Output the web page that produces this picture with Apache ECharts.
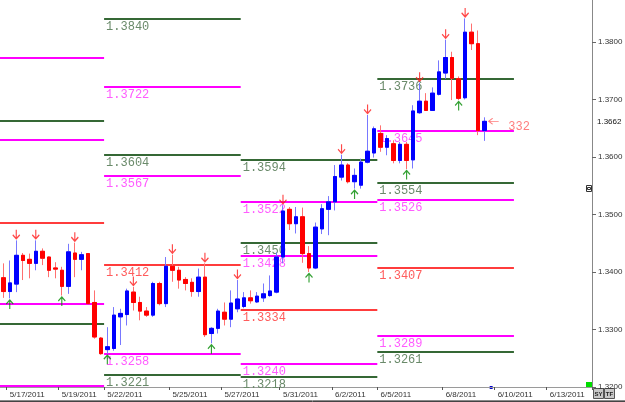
<!DOCTYPE html>
<html>
<head>
<meta charset="utf-8">
<script src="https://cdn.jsdelivr.net/npm/echarts@6/dist/echarts.min.js"></script>
<style>
  html, body { margin: 0; padding: 0; background: #fff; }
  #chart-content { width: 625px; height: 402px; }
</style>
</head>
<body>
<div id="chart-content"></div>
<script>
// 6h bars from 5/17/2011 on, weekly pivot levels drawn per week
const opens = [
  1.3390, 1.3366, 1.3379, 1.3429, 1.3422, 1.3415, 1.3436, 1.3426, 1.3407, 1.3403,
  1.3375, 1.3433, 1.3422, 1.3432, 1.3347, 1.3285, 1.3265, 1.3267, 1.3322, 1.3326,
  1.3365, 1.3347, 1.3332, 1.3325, 1.3380, 1.3345, 1.3410, 1.3403, 1.3387, 1.3382,
  1.3366, 1.3391, 1.3293, 1.3302, 1.3330, 1.3318, 1.3336, 1.3340, 1.3355, 1.3348,
  1.3355, 1.3359, 1.3365, 1.3426, 1.3509, 1.3484, 1.3496, 1.3432, 1.3407, 1.3475,
  1.3509, 1.3522, 1.3565, 1.3586, 1.3557, 1.3551, 1.3591, 1.3607, 1.3641, 1.3617,
  1.3623, 1.3594, 1.3622, 1.3595, 1.3677, 1.3697, 1.3681, 1.3709, 1.3746, 1.3773,
  1.3736, 1.3703, 1.3817, 1.3797, 1.3646
];
const closes = [
  1.3366, 1.3381, 1.3429, 1.3420, 1.3415, 1.3436, 1.3424, 1.3403, 1.3405, 1.3375,
  1.3435, 1.3422, 1.3430, 1.3345, 1.3287, 1.3258, 1.3270, 1.3325, 1.3328, 1.3367,
  1.3347, 1.3332, 1.3325, 1.3380, 1.3345, 1.3410, 1.3403, 1.3386, 1.3380, 1.3366,
  1.3391, 1.3291, 1.3302, 1.3332, 1.3318, 1.3346, 1.3353, 1.3355, 1.3350, 1.3358,
  1.3362, 1.3367, 1.3426, 1.3506, 1.3484, 1.3496, 1.3432, 1.3407, 1.3478, 1.3510,
  1.3522, 1.3566, 1.3586, 1.3557, 1.3568, 1.3591, 1.3610, 1.3649, 1.3617, 1.3632,
  1.3594, 1.3622, 1.3594, 1.3680, 1.3697, 1.3681, 1.3711, 1.3748, 1.3773, 1.3737,
  1.3702, 1.3817, 1.3797, 1.3646, 1.3662
];
const lows = [
  1.3355, 1.3354, 1.3365, 1.3386, 1.3389, 1.3403, 1.3412, 1.3391, 1.3389, 1.3359,
  1.3362, 1.3391, 1.3403, 1.3344, 1.3284, 1.3256, 1.3258, 1.3263, 1.3273, 1.3307,
  1.3333, 1.3316, 1.3322, 1.3322, 1.3342, 1.3339, 1.3383, 1.3371, 1.3368, 1.3357,
  1.3357, 1.3287, 1.3276, 1.3293, 1.3307, 1.3304, 1.3330, 1.3337, 1.3345, 1.3346,
  1.3348, 1.3357, 1.3363, 1.3415, 1.3473, 1.3467, 1.3416, 1.3400, 1.3405, 1.3466,
  1.3464, 1.3507, 1.3559, 1.3554, 1.3545, 1.3545, 1.3589, 1.3599, 1.3609, 1.3603,
  1.3589, 1.3589, 1.3579, 1.3580, 1.3675, 1.3680, 1.3680, 1.3707, 1.3736, 1.3699,
  1.3699, 1.3700, 1.3786, 1.3638, 1.3628
];
const highs = [
  1.3415, 1.3420, 1.3455, 1.3433, 1.3432, 1.3455, 1.3441, 1.3427, 1.3417, 1.3409,
  1.3449, 1.3451, 1.3435, 1.3433, 1.3368, 1.3287, 1.3304, 1.3339, 1.3336, 1.3371,
  1.3374, 1.3357, 1.3339, 1.3383, 1.3383, 1.3426, 1.3430, 1.3409, 1.3391, 1.3389,
  1.3406, 1.3415, 1.3304, 1.3336, 1.3347, 1.3368, 1.3386, 1.3365, 1.3368, 1.3365,
  1.3380, 1.3394, 1.3434, 1.3516, 1.3513, 1.3513, 1.3512, 1.3445, 1.3486, 1.3518,
  1.3532, 1.3586, 1.3604, 1.3589, 1.3580, 1.3597, 1.3673, 1.3653, 1.3655, 1.3638,
  1.3629, 1.3626, 1.3626, 1.3690, 1.3729, 1.3711, 1.3721, 1.3768, 1.3804, 1.3783,
  1.3740, 1.3841, 1.3832, 1.3820, 1.3669
];

// fractal arrows
const peakIdx = [2, 5, 11, 20, 26, 31, 36, 43, 52, 56, 64, 68, 71];
const troughIdx = [1, 9, 16, 32, 47, 54, 62, 70];

// x axis: 91 slots, date labels at some of them
const slotCount = 91;
const tickIndex = [1, 9, 16, 26, 34, 43, 51, 58, 68, 76, 84];
const tickLabels = ['5/17/2011', '5/19/2011', '5/22/2011', '5/25/2011', '5/27/2011',
  '5/31/2011', '6/2/2011', '6/5/2011', '6/8/2011', '6/10/2011', '6/13/2011'];

// weekly levels
const weekStart = [0, 16, 37, 58];
const weekEnd = [15, 36, 57, 78];
const weekLevels = [
  [1.3772, 1.3663, 1.3630, 1.3486, 1.3344, 1.3310, 1.3202],
  [1.3840, 1.3722, 1.3604, 1.3567, 1.3412, 1.3258, 1.3221],
  [1.3594, 1.3522, 1.3450, 1.3428, 1.3334, 1.3240, 1.3218],
  [1.3736, 1.3645, 1.3554, 1.3526, 1.3407, 1.3289, 1.3261]
];
const weekKinds = [
  ['m', 'g', 'm', 'r', 'm', 'g', 'm'],
  ['g', 'm', 'g', 'm', 'r', 'm', 'g'],
  ['g', 'm', 'g', 'm', 'r', 'm', 'g'],
  ['g', 'm', 'g', 'm', 'r', 'm', 'g']
];
const weekShowText = [false, true, true, true];

const rangeNote = '332';

const categories = Array.from({ length: slotCount }, (_, i) => String(i));
const levelColor = { g: '#356835', m: '#ff00ff', r: '#ff3c3c' };
const levelTextColor = { g: '#6a8a6a', m: '#ff5cff', r: '#ff5c5c' };

const levelRows = [];
weekLevels.forEach((vals, w) => {
  vals.forEach((v, k) => {
    levelRows.push({ start: weekStart[w], end: weekEnd[w], value: v, kind: weekKinds[w][k], text: weekShowText[w] });
  });
});

const candleData = opens.map((o, i) => [o, closes[i], lows[i], highs[i]]);
// bodies only, drawn on top so the wicks keep the lighter colour
const bodyData = opens.map((o, i) => [o, closes[i], Math.min(o, closes[i]), Math.max(o, closes[i])]);

const chart = echarts.init(document.getElementById('chart-content'));

const downArrow = 'path://M4,0L4,9M0,5L4,9L8,5';
const upArrow = 'path://M4,9L4,0M0,4L4,0L8,4';
const leftArrow = 'path://M0,3L10,3M4,0L0,3L4,6';
const levelFont = '12px "Liberation Mono"';

let option = {
  animation: false,
  backgroundColor: '#ffffff',
  grid: { left: 0, right: 33, top: 0, bottom: 15, outerBoundsMode: 'none' },
  xAxis: {
    type: 'category',
    data: categories,
    boundaryGap: true,
    axisLine: { lineStyle: { color: '#9a9a9a', width: 1 } },
    axisTick: {
      show: true,
      length: 3,
      interval: (i) => tickIndex.includes(i),
      lineStyle: { color: '#555' }
    },
    axisLabel: {
      interval: (i) => tickIndex.includes(i),
      formatter: (v, i) => tickLabels[tickIndex.indexOf(Number(v))] || '',
      align: 'left',
      margin: 4,
      fontSize: 8,
      fontFamily: 'Liberation Sans',
      color: '#333'
    },
    splitLine: { show: false }
  },
  yAxis: {
    type: 'value',
    position: 'right',
    min: 1.32,
    max: 1.3873,
    interval: 0.01,
    scale: true,
    axisLine: { show: true, lineStyle: { color: '#888', width: 1 } },
    axisTick: { show: true, length: 4, lineStyle: { color: '#666' } },
    axisLabel: {
      margin: 6,
      fontSize: 8,
      fontFamily: 'Liberation Sans',
      color: '#333',
      showMaxLabel: false,
      formatter: (v) => v.toFixed(4)
    },
    splitLine: { show: false }
  },
  series: [
    {
      type: 'custom',
      name: 'levels',
      z: 1,
      silent: true,
      data: levelRows.map(r => [r.start, r.end, r.value]),
      encode: { x: [0, 1], y: 2 },
      renderItem: function (params, api) {
        const row = levelRows[params.dataIndex];
        const band = api.size([1, 0])[0];
        const a = api.coord([row.start, row.value]);
        const b = api.coord([row.end, row.value]);
        const x1 = a[0] - band / 2;
        const x2 = b[0] + band / 2;
        const y = Math.round(a[1]);
        const children = [{
          type: 'line',
          shape: { x1: x1, y1: y, x2: x2, y2: y },
          style: { stroke: levelColor[row.kind], lineWidth: 2 }
        }];
        if (row.text) {
          children.push({
            type: 'text',
            x: x1 + 2,
            y: y + 2,
            style: {
              text: row.value.toFixed(4),
              fill: levelTextColor[row.kind],
              font: levelFont,
              align: 'left',
              verticalAlign: 'top'
            }
          });
        }
        return { type: 'group', children: children };
      }
    },
    {
      type: 'candlestick',
      z: 2,
      silent: true,
      barWidth: 4,
      data: candleData,
      itemStyle: {
        color: '#0000ff',
        color0: '#ff0000',
        borderColor: '#7878ff',
        borderColor0: '#ff7070',
        borderWidth: 1
      }
    },
    {
      type: 'candlestick',
      z: 3,
      silent: true,
      barWidth: 4,
      data: bodyData,
      itemStyle: {
        color: '#0000ff',
        color0: '#ff0000',
        borderColor: '#0000ff',
        borderColor0: '#ff0000',
        borderWidth: 1
      }
    },
    {
      type: 'scatter',
      z: 4,
      silent: true,
      symbol: downArrow,
      symbolSize: [7, 9],
      symbolOffset: [0, -6],
      itemStyle: { color: 'rgba(0,0,0,0)', borderColor: '#ff1a1a', borderWidth: 1.3 },
      data: peakIdx.map(i => [i, highs[i]])
    },
    {
      type: 'scatter',
      z: 4,
      silent: true,
      symbol: upArrow,
      symbolSize: [7, 9],
      symbolOffset: [0, 6],
      itemStyle: { color: 'rgba(0,0,0,0)', borderColor: '#008a00', borderWidth: 1.3 },
      data: troughIdx.map(i => [i, lows[i]])
    },
    {
      type: 'scatter',
      z: 4,
      silent: true,
      symbol: leftArrow,
      symbolSize: [10, 6],
      symbolOffset: [9, 0],
      itemStyle: { color: 'rgba(0,0,0,0)', borderColor: '#ff5c5c', borderWidth: 1 },
      label: {
        show: true,
        position: 'right',
        distance: 9,
        offset: [0, 5],
        formatter: rangeNote,
        color: '#ff5c5c',
        fontFamily: 'Liberation Mono',
        fontSize: 12
      },
      data: [[closes.length - 1, closes[closes.length - 1]]]
    }
  ]
};
chart.setOption(option);

// price tag, status widgets
const lastIdx = closes.length - 1;
const priceY = chart.convertToPixel({ yAxisIndex: 0 }, closes[lastIdx]);
const nowX = chart.convertToPixel({ xAxisIndex: 0 }, lastIdx + 1);
chart.setOption({
  graphic: [
    { type: 'text', x: 597, y: priceY, style: { text: closes[lastIdx].toFixed(4), fill: '#111', font: '8px "Liberation Sans"', verticalAlign: 'middle' } },
    { type: 'rect', shape: { x: 491, y: 386, width: 3, height: 3 }, x: nowX - 492.5, style: { fill: '#0000cc' } },
    { type: 'rect', shape: { x: 586.5, y: 185.5, width: 5, height: 6 }, style: { fill: '#fff', stroke: '#333', lineWidth: 1 } },
    { type: 'rect', shape: { x: 587.5, y: 187.5, width: 3, height: 2 }, style: { fill: '#fff', stroke: '#333', lineWidth: 1 } },
    { type: 'rect', shape: { x: 586, y: 382, width: 6, height: 6 }, style: { fill: '#00dd00' } },
    { type: 'rect', shape: { x: 593.5, y: 388.5, width: 10, height: 10 }, style: { fill: '#c8c8c8', stroke: '#555', lineWidth: 1 } },
    { type: 'rect', shape: { x: 604.5, y: 388.5, width: 10, height: 10 }, style: { fill: '#c8c8c8', stroke: '#555', lineWidth: 1 } },
    { type: 'text', x: 598.5, y: 394, style: { text: 'SY', fill: '#222', font: 'bold 6px "Liberation Sans"', align: 'center', verticalAlign: 'middle' } },
    { type: 'text', x: 609.5, y: 394, style: { text: 'TF', fill: '#222', font: 'bold 6px "Liberation Sans"', align: 'center', verticalAlign: 'middle' } },
    { type: 'line', shape: { x1: 0, y1: 400.5, x2: 625, y2: 400.5 }, style: { stroke: '#8a8a8a', lineWidth: 1 } },
    { type: 'line', shape: { x1: 0, y1: 401.5, x2: 625, y2: 401.5 }, style: { stroke: '#444', lineWidth: 1 } }
  ]
});
</script>
</body>
</html>
